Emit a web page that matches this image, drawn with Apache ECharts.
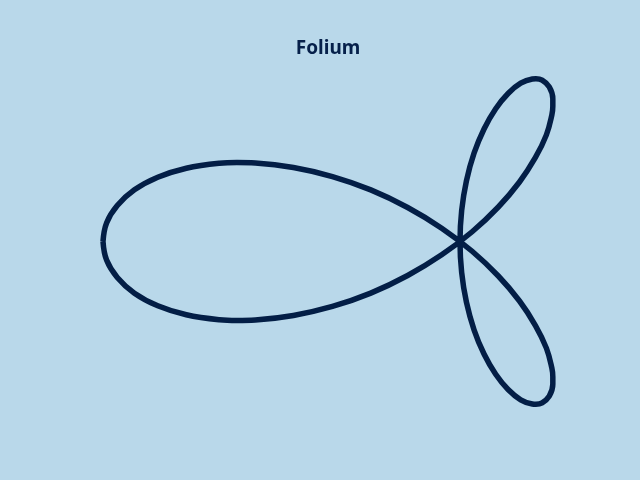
<!DOCTYPE html>
<html>
<head>
<meta charset="utf-8">
<style>
html,body{margin:0;padding:0;background:#b9d8ea;}
#chart{width:640px;height:480px;}
</style>
<script src="https://cdn.jsdelivr.net/npm/echarts@6/dist/echarts.min.js"></script>
</head>
<body>
<div id="chart"></div>
<script>
// Folium curve points (x, y in curve units)
var xValues = [
  -1.500, -1.485, -1.440, -1.368, -1.270, -1.150, -1.011, -0.937, -0.860, -0.700, -0.536,
  -0.375, -0.220, -0.077, 0.051, 0.161, 0.250, 0.317, 0.363, 0.386, 0.390, 0.390,
  0.375, 0.345, 0.319, 0.304, 0.255, 0.202, 0.150, 0.101, 0.059, 0.027, 0.007,
  0.000,
  0.007, 0.027, 0.059, 0.101, 0.150, 0.202, 0.255, 0.304, 0.319, 0.345, 0.375,
  0.390, 0.390, 0.386, 0.363, 0.317, 0.250, 0.161, 0.051, -0.077, -0.220, -0.375,
  -0.536, -0.700, -0.860, -0.937, -1.011, -1.150, -1.270, -1.368, -1.440, -1.485, -1.500
];
var yValues = [
  0.000, -0.078, -0.151, -0.217, -0.270, -0.308, -0.329, -0.332, -0.330, -0.311, -0.273,
  -0.217, -0.143, -0.056, 0.041, 0.145, 0.250, 0.353, 0.448, 0.532, 0.568, 0.600,
  0.650, 0.678, 0.684, 0.683, 0.665, 0.622, 0.558, 0.473, 0.371, 0.255, 0.130,
  0.000,
  -0.130, -0.255, -0.371, -0.473, -0.558, -0.622, -0.665, -0.683, -0.684, -0.678, -0.650,
  -0.600, -0.568, -0.532, -0.448, -0.353, -0.250, -0.145, -0.041, 0.056, 0.143, 0.217,
  0.273, 0.311, 0.330, 0.332, 0.329, 0.308, 0.270, 0.217, 0.151, 0.078, 0.000
];
var titleText = 'Folium';

var points = xValues.map(function (x, i) { return [x, yValues[i]]; });

var chart = echarts.init(document.getElementById('chart'), null, {renderer: 'canvas'});
chart.setOption({
  backgroundColor: '#b9d8ea',
  animation: false,
  title: {
    text: titleText,
    left: 328,
    textAlign: 'center',
    top: 39,
    padding: 0,
    textStyle: {
      fontFamily: 'Noto Sans',
      fontWeight: 'bold',
      fontSize: 19,
      color: '#06204a'
    }
  },
  grid: {left: 103, right: 61, top: 74.9, bottom: 71.9},
  xAxis: {type: 'value', min: -1.5, max: 0.5, show: false},
  yAxis: {type: 'value', min: -0.7, max: 0.7, show: false},
  series: [{
    type: 'line',
    data: points,
    smooth: 0.4,
    symbol: 'none',
    clip: false,
    lineStyle: {color: '#031e46', width: 5.5}
  }]
});
</script>
</body>
</html>
